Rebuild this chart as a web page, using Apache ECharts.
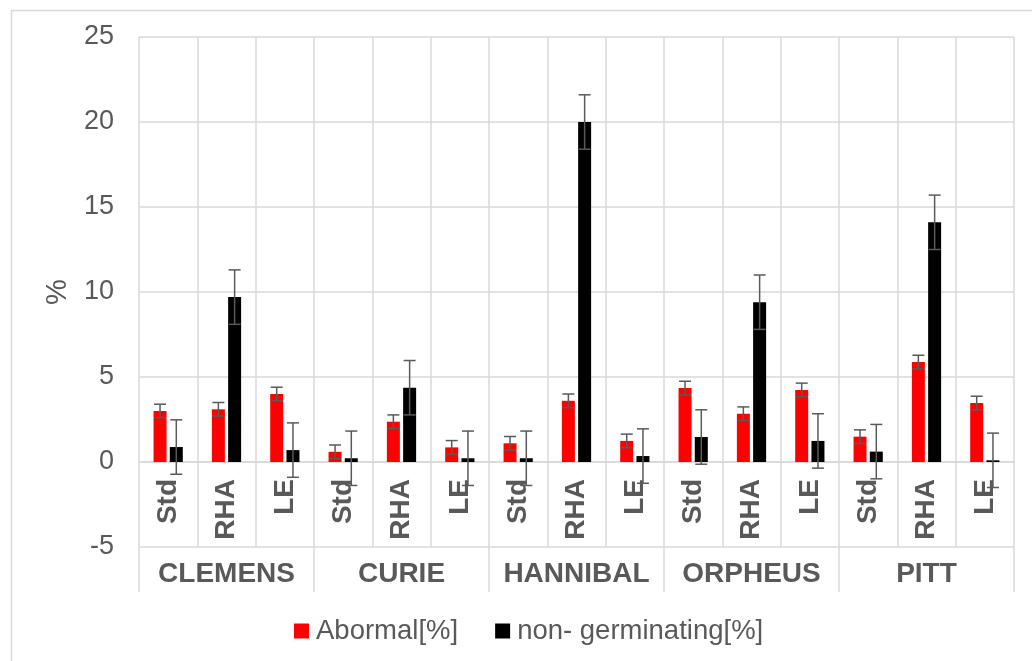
<!DOCTYPE html>
<html>
<head>
<meta charset="utf-8">
<script src="https://cdn.jsdelivr.net/npm/echarts@6/dist/echarts.min.js"></script>
<style>
html,body{margin:0;padding:0;background:#fff;}
#chart{width:1032px;height:661px;}
</style>
</head>
<body>
<div id="chart"></div>
<script>
const groups = ['CLEMENS', 'CURIE', 'HANNIBAL', 'ORPHEUS', 'PITT'];
const treatments = ['Std', 'RHA', 'LE'];
const subCategories = ['Std','RHA','LE','Std','RHA','LE','Std','RHA','LE','Std','RHA','LE','Std','RHA','LE'];
const abnormal = [3.0, 3.1, 4.0, 0.6, 2.37, 0.86, 1.1, 3.6, 1.24, 4.35, 2.84, 4.24, 1.49, 5.88, 3.47];
const abnormalErr = [0.4,0.4,0.4,0.4,0.4,0.4,0.4,0.4,0.4,0.4,0.4,0.4,0.4,0.4,0.4];
const nonGerminating = [0.88, 9.7, 0.7, 0.22, 4.37, 0.22, 0.22, 20.0, 0.35, 1.47, 9.4, 1.24, 0.61, 14.1, 0.1];
const nonGermErr = [1.6,1.6,1.6,1.6,1.6,1.6,1.6,1.6,1.6,1.6,1.6,1.6,1.6,1.6,1.6];
const yTicks = {min: -5, max: 25, interval: 5};

const BAR_W = 13, BAR_GAP = 3.25;
const GRID_TOP = 37, GRID_H = 510;
const FONT = '"Liberation Sans", Arial, sans-serif';
const GRID_C = '#d9d9d9', TEXT_C = '#595959', ERR_C = '#5a5a5a';
// distance from grid bottom up to the zero line
const zeroOffset = GRID_H * (0 - yTicks.min) / (yTicks.max - yTicks.min);

function errSeries(values, errs, shift) {
  return {
    type: 'custom',
    xAxisIndex: 0, yAxisIndex: 0,
    z: 5,
    silent: true,
    clip: false,
    data: values.map((v, i) => [i, v, errs[i]]),
    renderItem: function (params, api) {
      const i = api.value(0), v = api.value(1), e = api.value(2);
      const top = api.coord([i, v + e]);
      const bot = api.coord([i, v - e]);
      const x = top[0] + shift;
      const cap = 6;
      const style = {stroke: ERR_C, lineWidth: 1.5, fill: null};
      return {
        type: 'group',
        children: [
          {type: 'line', shape: {x1: x, y1: top[1], x2: x, y2: bot[1]}, style: style},
          {type: 'line', shape: {x1: x - cap, y1: top[1], x2: x + cap, y2: top[1]}, style: style},
          {type: 'line', shape: {x1: x - cap, y1: bot[1], x2: x + cap, y2: bot[1]}, style: style}
        ]
      };
    }
  };
}

const chart = echarts.init(document.getElementById('chart'), null, {renderer: 'canvas'});
const off = (BAR_W + BAR_GAP) / 2;
chart.setOption({
  animation: false,
  backgroundColor: '#fff',
  textStyle: {fontFamily: FONT},
  graphic: [{
    type: 'rect', left: 9, top: 8, silent: true,
    shape: {x: 0, y: 0, width: 1040, height: 670},
    style: {fill: null, stroke: GRID_C, lineWidth: 1.5}
  }],
  grid: [
    {left: 139, right: 18, top: GRID_TOP, height: GRID_H},
    {left: 139, right: 18, top: GRID_TOP + GRID_H - 1, height: 1}
  ],
  legend: {
    left: 294, top: 617, padding: 0,
    itemWidth: 15, itemHeight: 15, itemGap: 37,
    icon: 'rect',
    textStyle: {fontSize: 27.5, color: TEXT_C, fontFamily: FONT, padding: [0, 0, 0, 2]},
    data: ['Abormal[%]', 'non- germinating[%]']
  },
  xAxis: [{
    type: 'category',
    gridIndex: 0,
    data: subCategories,
    position: 'bottom',
    offset: -zeroOffset,
    axisLine: {onZero: false, lineStyle: {color: GRID_C, width: 1.5}},
    axisTick: {show: false},
    axisLabel: {rotate: 90, interval: 0, margin: 17, fontSize: 28, fontWeight: 'bold', color: TEXT_C, fontFamily: FONT},
    splitLine: {show: true, interval: 0, lineStyle: {color: GRID_C, width: 1.5}}
  }, {
    type: 'category',
    gridIndex: 1,
    data: groups,
    position: 'bottom',
    axisLine: {show: false, onZero: false},
    axisTick: {show: true, length: 45, interval: 0, lineStyle: {color: GRID_C, width: 1.5}},
    axisLabel: {interval: 0, margin: 13, fontSize: 28, fontWeight: 'bold', color: TEXT_C, fontFamily: FONT},
    splitLine: {show: false}
  }],
  yAxis: [{
    type: 'value',
    gridIndex: 0,
    min: yTicks.min, max: yTicks.max, interval: yTicks.interval,
    name: '%', nameLocation: 'middle', nameGap: 67,
    nameTextStyle: {fontSize: 29, color: TEXT_C, fontFamily: FONT},
    axisLine: {show: false},
    axisTick: {show: false},
    axisLabel: {margin: 25, fontSize: 27, color: TEXT_C, fontFamily: FONT},
    splitLine: {show: true, lineStyle: {color: GRID_C, width: 1.5}}
  }, {
    type: 'value', gridIndex: 1, show: false, min: 0, max: 1
  }],
  series: [{
    name: 'Abormal[%]', type: 'bar', xAxisIndex: 0, yAxisIndex: 0,
    data: abnormal, barWidth: BAR_W, barGap: '25%',
    itemStyle: {color: '#ff0000'}
  }, {
    name: 'non- germinating[%]', type: 'bar', xAxisIndex: 0, yAxisIndex: 0,
    data: nonGerminating, barWidth: BAR_W, barGap: '25%',
    itemStyle: {color: '#000000'}
  },
  errSeries(abnormal, abnormalErr, -off),
  errSeries(nonGerminating, nonGermErr, off)
  ]
});
</script>
</body>
</html>
